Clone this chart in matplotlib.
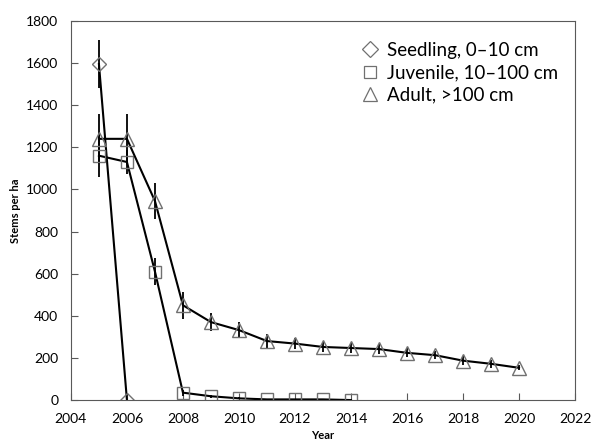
import numpy as np
import matplotlib.pyplot as plt

plt.rcParams['font.family'] = ['Lato', 'DejaVu Sans']

seed_year = [2005, 2006]
seed_val = [1595, 0]
seed_err = [115, 0]

juv_year = [2005, 2006, 2007, 2008, 2009, 2010, 2011, 2012, 2013, 2014]
juv_val = [1160, 1130, 610, 35, 18, 8, 3, 3, 3, 0]
juv_err = [100, 55, 65, 15, 8, 5, 2, 2, 1, 0]

adu_year = list(range(2005, 2021))
adu_val = [1240, 1240, 945, 450, 370, 332, 280, 268, 252, 247, 242, 224, 213, 187, 172, 153]
adu_err = [120, 120, 85, 65, 42, 38, 32, 28, 25, 25, 22, 22, 20, 20, 18, 12]

fig = plt.figure(figsize=(5.91, 4.44), dpi=100)
ax = fig.add_axes([0.120, 0.099, 0.853, 0.854])

mk = dict(markerfacecolor='none', markeredgecolor='#707070', markeredgewidth=1.0,
          color='black', linewidth=1.5, ecolor='black', elinewidth=1.3, capsize=0)

ax.errorbar(seed_year, seed_val, yerr=seed_err, marker='D', markersize=7,
            label='Seedling, 0\u201310 cm', **mk)
ax.errorbar(juv_year, juv_val, yerr=juv_err, marker='s', markersize=9,
            label='Juvenile, 10\u2013100 cm', **mk)
ax.errorbar(adu_year, adu_val, yerr=adu_err, marker='^', markersize=10,
            label='Adult, >100 cm', **mk)

ax.set_xlim(2004, 2022)
ax.set_ylim(0, 1800)
ax.set_xticks(range(2004, 2023, 2))
ax.set_yticks(range(0, 1801, 200))
ax.tick_params(direction='in', labelsize=10, colors='#595959', labelcolor='black', length=5)
ax.tick_params(axis='x', pad=9)
ax.tick_params(axis='y', pad=9)
for s in ax.spines.values():
    s.set_color('#595959')

ax.set_xlabel('Year', fontsize=8, fontweight='bold', labelpad=4)
ax.set_ylabel('Stems per ha', fontsize=8, fontweight='bold', labelpad=4)

handles, labels = ax.get_legend_handles_labels()
hs = [plt.Line2D([], [], marker=m, linestyle='none', markerfacecolor='none',
                 markeredgecolor='#707070', markeredgewidth=0.9, markersize=ms)
      for m, ms in [('D', 8), ('s', 9), ('^', 10)]]
ax.legend(hs, labels, loc='upper right', bbox_to_anchor=(1.0, 0.99), frameon=False,
          fontsize=13.5, handletextpad=0.4, labelspacing=0.3, handlelength=1.0)

fig.savefig('out.png', dpi=100)
